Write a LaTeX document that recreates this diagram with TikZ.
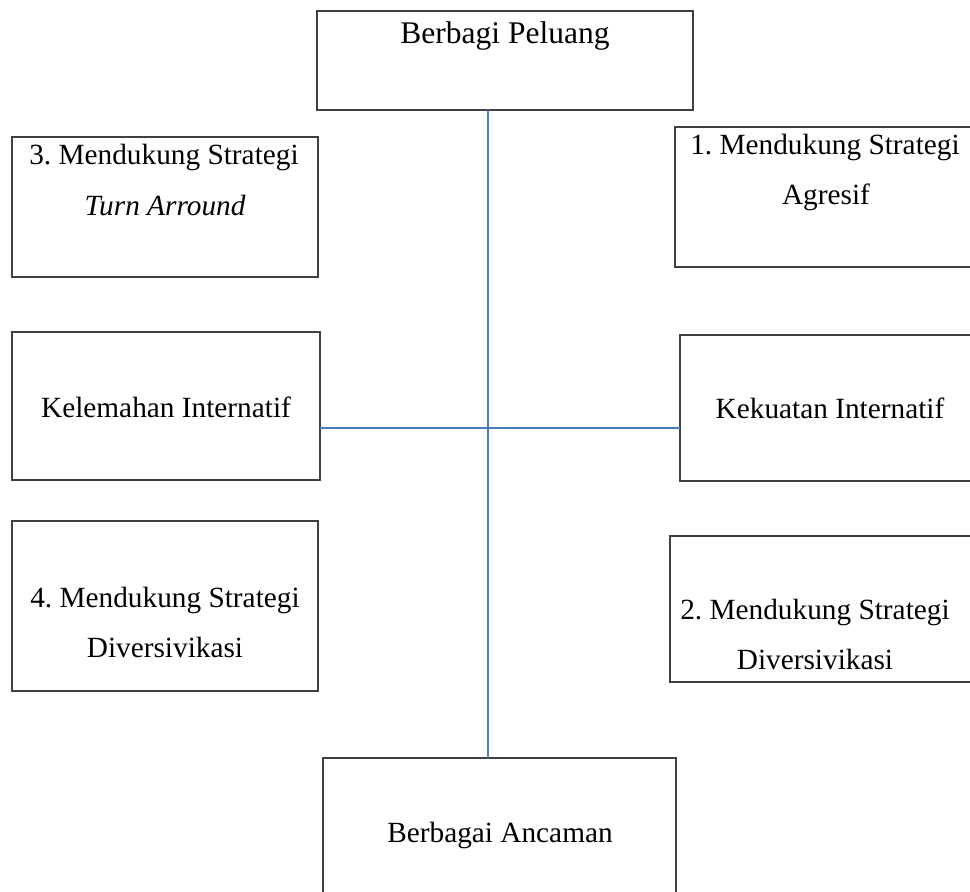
\documentclass[tikz,border=0pt]{standalone}
\usepackage{fontspec}
\setmainfont{Liberation Serif}
\frenchspacing
\definecolor{boxline}{HTML}{404040}
\definecolor{conn}{HTML}{4A7EBB}
\begin{document}
\begin{tikzpicture}[x=1pt,y=-1pt,
  box/.style={draw=boxline,line width=1.3pt,anchor=north west,inner sep=0pt,outer sep=0pt},
  txt/.style={anchor=base,inner sep=0pt,font=\fontsize{29.3}{35}\selectfont},
  connline/.style={draw=conn,line width=2pt}]
\useasboundingbox (0,0) rectangle (970,892);
\clip (0,0) rectangle (970,892);
% boxes
\node[box,minimum width=376pt,minimum height=99pt] (top) at (317,11) {};
\node[box,minimum width=306pt,minimum height=140pt] (b3) at (12,137) {};
\node[box,minimum width=308pt,minimum height=148pt] (kel) at (12,332) {};
\node[box,minimum width=306pt,minimum height=170pt] (b4) at (12,521) {};
\node[box,minimum width=330pt,minimum height=140pt] (b1) at (675,127) {};
\node[box,minimum width=330pt,minimum height=146pt] (kek) at (680,335) {};
\node[box,minimum width=330pt,minimum height=146pt] (b2) at (670,536) {};
\node[box,minimum width=353pt,minimum height=170pt] (bot) at (323,758) {};
% texts
\node[txt,font=\fontsize{31.5}{38}\selectfont] (ttop) at (505,43) {Berbagi Peluang};
\node[txt] (t3a) at (164,164) {3. Mendukung Strategi};
\node[txt] (t3b) at (165,215) {\itshape Turn Arround};
\node[txt] (tkel) at (166,417) {Kelemahan Internatif};
\node[txt] (t4a) at (165,607) {4. Mendukung Strategi};
\node[txt] (t4b) at (165,657) {Diversivikasi};
\node[txt] (t1a) at (825,154) {1. Mendukung Strategi};
\node[txt] (t1b) at (826,204) {Agresif};
\node[txt] (tkek) at (830,418) {Kekuatan Internatif};
\node[txt] (t2a) at (815,619) {2. Mendukung Strategi};
\node[txt] (t2b) at (815,669) {Diversivikasi};
\node[txt] (tbot) at (500,842) {Berbagai Ancaman};
% connectors
\coordinate (vx) at (488,0);
\coordinate (hy) at (0,428);
\draw[connline] (top.south -| vx) -- (bot.north -| vx);
\draw[connline] (kel.east |- hy) -- (kek.west |- hy);
\end{tikzpicture}
\end{document}
